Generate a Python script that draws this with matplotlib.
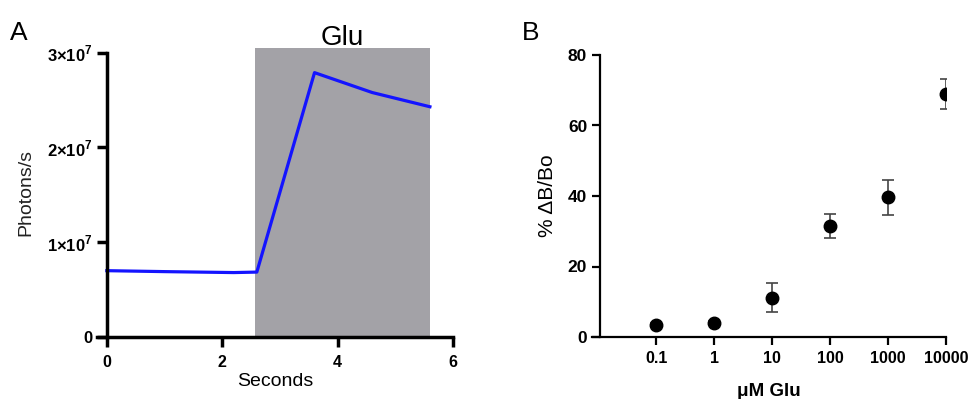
import matplotlib
matplotlib.use("Agg")
import matplotlib.pyplot as plt

plt.rcParams["font.family"] = ["Liberation Sans", "DejaVu Sans"]
plt.rcParams["mathtext.fontset"] = "custom"
plt.rcParams["mathtext.rm"] = "Liberation Sans:bold"
plt.rcParams["mathtext.bf"] = "Liberation Sans:bold"

# Panel A: trace
t_sec = [0, 1.0, 2.2, 2.6, 3.6, 4.6, 5.6]
photons = [7.0e6, 6.9e6, 6.8e6, 6.85e6, 2.79e7, 2.58e7, 2.43e7]
glu_start, glu_end = 2.56, 5.6
a_yticks = [0, 1e7, 2e7, 3e7]
a_ylabels = ["0", r"$1{\times}10^7$", r"$2{\times}10^7$", r"$3{\times}10^7$"]

# Panel B: dose response
conc = [0.1, 1, 10, 100, 1000, 10000]
dbb = [3.4, 4.1, 11.1, 31.6, 39.6, 68.9]
dbb_err = [0.5, 0.5, 4.1, 3.4, 5.0, 4.2]

fig = plt.figure(figsize=(9.71, 3.99), dpi=100)

# ---- A ----
ax1 = fig.add_axes([97 / 971, 62 / 399, 356 / 971, 289 / 399])
ax1.axvspan(glu_start, glu_end, color="#a3a2a7", zorder=0, lw=0)
ax1.plot(t_sec, photons, color="#1414ff", lw=2.3, zorder=2)
ax1.set_xlim(-0.17, 6.0)
ax1.set_ylim(0, 3.05e7)
ax1.spines["left"].set_position(("data", 0))
ax1.spines["left"].set_bounds(0, 3e7)
for s in ["top", "right"]:
    ax1.spines[s].set_visible(False)
for s in ["left", "bottom"]:
    ax1.spines[s].set_linewidth(2.5)
ax1.set_xticks([0, 2, 4, 6])
ax1.set_yticks(a_yticks)
ax1.set_yticklabels(a_ylabels)
ax1.tick_params(width=2.5, length=7, labelsize=11.5)
ax1.tick_params(axis="y", labelsize=12)
ax1.tick_params(axis="x", pad=6)
for lab in ax1.get_xticklabels() + ax1.get_yticklabels():
    lab.set_fontweight("bold")
ax1.set_xlabel("Seconds", fontsize=14, labelpad=2)
ax1.set_ylabel("Photons/s", fontsize=14, color="#222222", labelpad=9)
ax1.text((glu_start + glu_end) / 2, 3.08e7, "Glu", ha="center", va="baseline", fontsize=20)
fig.text(10 / 971, 1 - 40 / 399, "A", fontsize=19)

# ---- B ----
ax2 = fig.add_axes([592 / 971, 62 / 399, 354 / 971, 282 / 399])
ax2.errorbar(conc, dbb, yerr=dbb_err, fmt="o", color="black", ms=9,
             ecolor="#444444", elinewidth=1.2, capsize=4, capthick=1.2, zorder=3)
ax2.set_xscale("log")
ax2.set_xlim(10 ** -2.11, 10 ** 4)
ax2.set_ylim(0, 80)
ax2.spines["left"].set_position(("data", 10 ** -1.966))
for s in ["top", "right"]:
    ax2.spines[s].set_visible(False)
for s in ["left", "bottom"]:
    ax2.spines[s].set_linewidth(1.6)
ax2.set_xticks(conc)
ax2.set_xticklabels(["0.1", "1", "10", "100", "1000", "10000"])
ax2.xaxis.set_minor_locator(matplotlib.ticker.NullLocator())
ax2.set_yticks([0, 20, 40, 60, 80])
ax2.tick_params(width=1.6, length=6, labelsize=11.5)
ax2.tick_params(axis="y", labelsize=12.5)
ax2.tick_params(axis="x", pad=4)
for lab in ax2.get_xticklabels() + ax2.get_yticklabels():
    lab.set_fontweight("bold")
ax2.set_xlabel("μM Glu", fontsize=13.5, fontweight="bold", labelpad=12)
ax2.set_ylabel("% ΔB/Bo", fontsize=15, labelpad=8)
fig.text(522 / 971, 1 - 40 / 399, "B", fontsize=19)

fig.savefig("out.png", dpi=100)
